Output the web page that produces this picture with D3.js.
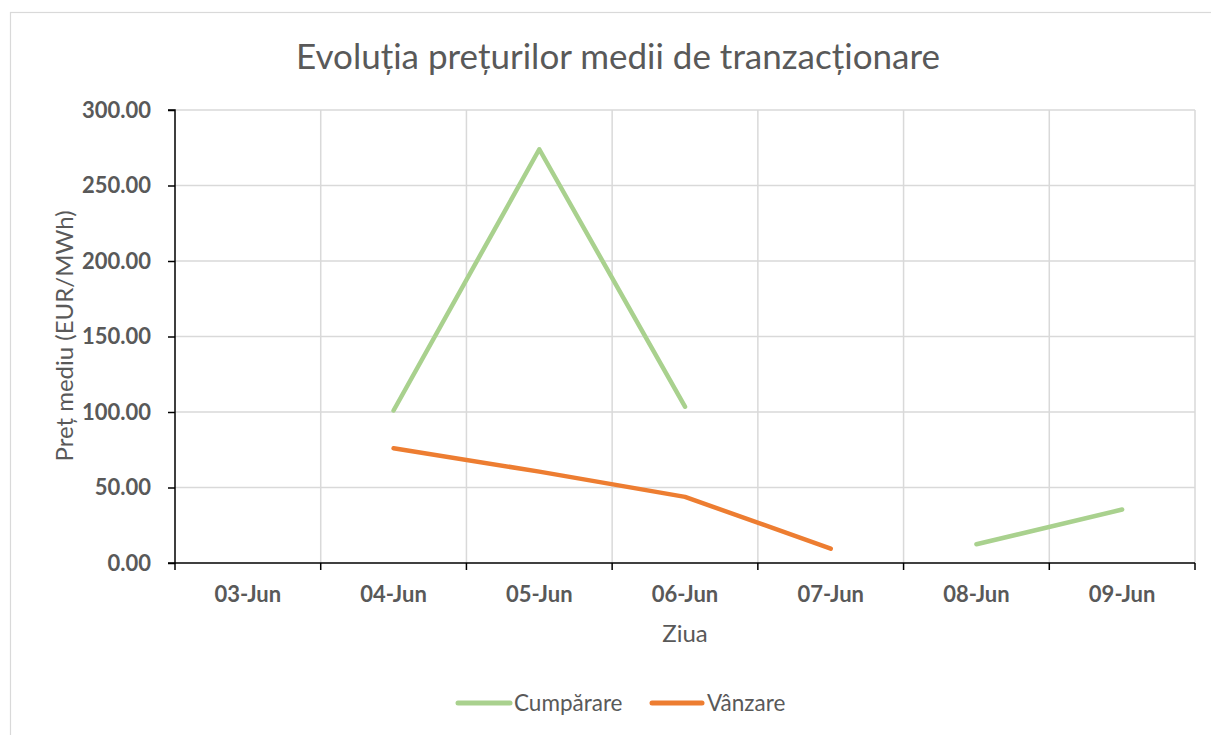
<!DOCTYPE html>
<html><head><meta charset="utf-8">
<script src="https://cdn.jsdelivr.net/npm/d3@7"></script>
<style>body{margin:0;background:#fff;}svg{display:block;}</style>
</head><body>
<svg id="c" width="1211" height="735"></svg>
<script>
const categories = ["03-Jun","04-Jun","05-Jun","06-Jun","07-Jun","08-Jun","09-Jun"];
const cumparare = [null, 101, 274, 103.5, null, 12.4, 35.4];
const vanzare = [null, 76, 60.5, 43.8, 9.5, null, null];
const yTicks = [0, 50, 100, 150, 200, 250, 300];
const seriesNames = ["Cumpărare", "Vânzare"];
const seriesColors = ["#A9D18E", "#ED7D31"];

const svg = d3.select("#c");
const font = "Lato, 'Open Sans', sans-serif";
const txt = "#595959";

svg.append("rect").attr("x",10.5).attr("y",12.5).attr("width",1230).attr("height",760)
  .attr("fill","#fff").attr("stroke","#d9d9d9").attr("stroke-width",1.2);

const L=175, R=1195, T=110, B=563;
const x = d3.scaleBand().domain(categories).range([L,R]);
const y = d3.scaleLinear().domain([0,300]).range([B,T]);

// gridlines
const g = svg.append("g");
g.selectAll(".hg").data(yTicks.filter(d=>d>0)).join("line")
  .attr("x1",L).attr("x2",R).attr("y1",d=>y(d)).attr("y2",d=>y(d))
  .attr("stroke","#d9d9d9").attr("stroke-width",1.5);
g.selectAll(".vg").data(categories).join("line")
  .attr("x1",d=>x(d)+x.bandwidth()).attr("x2",d=>x(d)+x.bandwidth()).attr("y1",T).attr("y2",B)
  .attr("stroke","#d9d9d9").attr("stroke-width",1.5);

// lines
const line = d3.line().defined(d=>d.v!=null).x(d=>x(d.c)+x.bandwidth()/2).y(d=>y(d.v));
[cumparare, vanzare].forEach((vals,i)=>{
  const data = categories.map((c,j)=>({c, v: vals[j]}));
  svg.append("path").datum(data).attr("d",line).attr("fill","none")
    .attr("stroke",seriesColors[i]).attr("stroke-width",4.5)
    .attr("stroke-linecap","round").attr("stroke-linejoin","round");
});

// y axis
const ya = svg.append("g").attr("transform",`translate(${L},0)`)
  .call(d3.axisLeft(y).tickValues(yTicks).tickFormat(d3.format(".2f")).tickSize(7).tickPadding(17));
ya.select(".domain").attr("stroke","#000").attr("stroke-width",1.5).attr("d",`M-7,${T}H0V${B}H-7`);
ya.selectAll(".tick line").attr("stroke","#000").attr("stroke-width",1.5);
ya.selectAll("text").attr("font-family",font).attr("font-weight","bold").attr("font-size",22).attr("fill",txt);

// x axis
const xa = svg.append("g").attr("transform",`translate(0,${B})`);
xa.append("line").attr("x1",L).attr("x2",R).attr("stroke","#000").attr("stroke-width",1.5);
xa.selectAll(".xt").data([L].concat(categories.map(c=>x(c)+x.bandwidth()))).join("line")
  .attr("x1",d=>d).attr("x2",d=>d).attr("y1",0).attr("y2",7).attr("stroke","#000").attr("stroke-width",1.5);
xa.selectAll(".xl").data(categories).join("text")
  .attr("x",d=>x(d)+x.bandwidth()/2).attr("y",39).attr("text-anchor","middle")
  .attr("font-family",font).attr("font-weight","bold").attr("font-size",22).attr("fill",txt).text(d=>d);

// titles
svg.append("text").attr("x",618).attr("y",69).attr("text-anchor","middle")
  .attr("font-family",font).attr("font-size",35).attr("fill",txt).text("Evoluția prețurilor medii de tranzacționare");
svg.append("text").attr("x",685).attr("y",642).attr("text-anchor","middle")
  .attr("font-family",font).attr("font-size",24).attr("fill",txt).text("Ziua");
svg.append("text").attr("transform","translate(73,336) rotate(-90)").attr("text-anchor","middle")
  .attr("font-family",font).attr("font-size",24).attr("fill",txt).text("Preț mediu (EUR/MWh)");

// legend
const leg = [{x0:458,x1:510,tx:514},{x0:652,x1:702,tx:707}];
seriesNames.forEach((n,i)=>{
  svg.append("line").attr("x1",leg[i].x0).attr("x2",leg[i].x1).attr("y1",703).attr("y2",703)
    .attr("stroke",seriesColors[i]).attr("stroke-width",5).attr("stroke-linecap","round");
  svg.append("text").attr("x",leg[i].tx).attr("y",711).attr("font-family",font).attr("font-size",22.5)
    .attr("fill",txt).text(n);
});
</script>
</body></html>
